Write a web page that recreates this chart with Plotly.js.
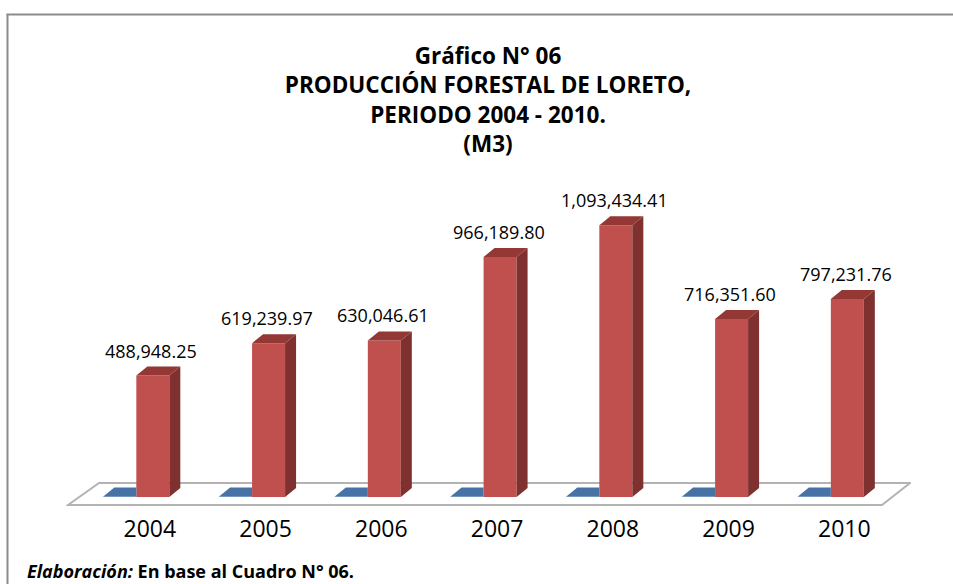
<!DOCTYPE html>
<html>
<head>
<meta charset="utf-8">
<script src="https://cdn.plot.ly/plotly-3.0.1.min.js"></script>
<style>
  html, body { margin: 0; padding: 0; background: #fff; }
  #chart { width: 953px; height: 584px; }
</style>
</head>
<body>
<div id="chart"></div>
<script>
// ---- data ----
const years = ['2004', '2005', '2006', '2007', '2008', '2009', '2010'];
const yearSeries = [2004, 2005, 2006, 2007, 2008, 2009, 2010];   // blue series (year column, ~0 at this scale)
const production = [488948.25, 619239.97, 630046.61, 966189.80, 1093434.41, 716351.60, 797231.76];
const productionLabels = ['488,948.25', '619,239.97', '630,046.61', '966,189.80', '1,093,434.41', '716,351.60', '797,231.76'];
const titleLines = ['Gráfico N° 06', 'PRODUCCIÓN FORESTAL DE LORETO,', 'PERIODO 2004 - 2010.', '(M3)'];

// ---- layout geometry ----
const W = 953, H = 584;
const M = { l: 66, r: 42, t: 174, b: 77 };
const xRange = [-0.75, 6.55];
const yRange = [-40000, 1300000];
const plotW = W - M.l - M.r, plotH = H - M.t - M.b;
const ux = (xRange[1] - xRange[0]) / plotW;   // x units per px
const uy = (yRange[1] - yRange[0]) / plotH;   // y units per px
const dataX = px => xRange[0] + (px - M.l) * ux;
const dataY = py => yRange[0] + (H - M.b - py) * uy;
const paperX = px => (px - M.l) / plotW;
const paperY = py => (H - M.b - py) / plotH;

const BAR_W = 33 * ux;     // front face width
const DX = 11 * ux;        // 3D depth offset (x)
const DY = 9 * uy;         // 3D depth offset (y)

const idx = years.map((_, i) => i);

// ---- 3D faces built from the data ----
const sideX = [], sideY = [], topX = [], topY = [], blueX = [], blueY = [];
idx.forEach(i => {
  const v = production[i];
  const xl = i - BAR_W / 2, xr = i + BAR_W / 2;
  sideX.push(xr, xr + DX, xr + DX, xr, xr, null);
  sideY.push(0, DY, v + DY, v, 0, null);
  topX.push(xl, xr, xr + DX, xl + DX, xl, null);
  topY.push(v, v, v + DY, v + DY, v, null);
  const b = yearSeries[i];
  const bl = i - 1.5 * BAR_W;
  blueX.push(bl, xl, xl, bl + DX, bl, null);
  blueY.push(b, b, b + DY, b + DY, b, null);
});

const traces = [
  { type: 'bar', x: idx.map(i => i - BAR_W), y: yearSeries, width: BAR_W,
    marker: { color: '#4f81bd' }, hoverinfo: 'skip', showlegend: false },
  { type: 'bar', x: idx, y: production, width: BAR_W,
    marker: { color: '#c0504d' }, hoverinfo: 'skip', showlegend: false },
  { type: 'scatter', mode: 'lines', x: blueX, y: blueY, fill: 'toself',
    fillcolor: '#4672a6', line: { width: 0, color: '#4672a6' }, hoverinfo: 'skip', showlegend: false },
  { type: 'scatter', mode: 'lines', x: sideX, y: sideY, fill: 'toself',
    fillcolor: '#7f312f', line: { width: 0, color: '#7f312f' }, hoverinfo: 'skip', showlegend: false },
  { type: 'scatter', mode: 'lines', x: topX, y: topY, fill: 'toself',
    fillcolor: '#933835', line: { width: 0, color: '#933835' }, hoverinfo: 'skip', showlegend: false }
];

const annotations = idx.map(i => ({
  x: i, y: production[i], xref: 'x', yref: 'y',
  text: productionLabels[i], showarrow: false,
  xanchor: 'center', yanchor: 'middle', yshift: 25, xshift: -1.5,
  font: { family: 'Open Sans, sans-serif', size: 18, color: '#000' }
}));
annotations.push({
  xref: 'paper', yref: 'paper', x: paperX(25), y: paperY(557),
  xanchor: 'left', yanchor: 'top', showarrow: false,
  text: '<b><i>Elaboración:</i> En base al Cuadro N° 06.</b>',
  font: { family: 'Open Sans, sans-serif', size: 18, color: '#000' }
});

// floor (decorative plane) and border
const fl = { bl: [dataX(68), dataY(505)], br: [dataX(882), dataY(505)], tr: [dataX(910), dataY(483)], tl: [dataX(99), dataY(483)] };
const shapes = [
  { type: 'path', xref: 'x', yref: 'y', layer: 'below',
    path: `M${fl.bl[0]},${fl.bl[1]} L${fl.br[0]},${fl.br[1]} L${fl.tr[0]},${fl.tr[1]} L${fl.tl[0]},${fl.tl[1]} Z`,
    line: { color: '#b3b3b3', width: 2 }, fillcolor: '#ffffff' },
  { type: 'line', xref: 'paper', yref: 'paper', x0: paperX(7.5), x1: paperX(7.5), y0: paperY(14), y1: paperY(590),
    line: { color: '#8c8c8c', width: 2 } },
  { type: 'line', xref: 'paper', yref: 'paper', x0: paperX(6.5), x1: paperX(960), y0: paperY(14.5), y1: paperY(14.5),
    line: { color: '#8c8c8c', width: 2 } }
];

const layout = {
  width: W, height: H,
  margin: M,
  paper_bgcolor: '#ffffff', plot_bgcolor: 'rgba(0,0,0,0)',
  barmode: 'overlay',
  showlegend: false,
  title: {
    text: titleLines.map(t => '<b>' + t + '</b>').join('<br>'),
    font: { family: 'Open Sans, sans-serif', size: 22.5, color: '#000' },
    x: 488 / W, xanchor: 'center', xref: 'container',
    y: 1 - 64 / H, yanchor: 'top', yref: 'container'
  },
  xaxis: {
    range: xRange, tickmode: 'array', tickvals: idx, ticktext: years,
    showgrid: false, zeroline: false, showline: false, ticks: '',
    ticklabelshift: -3, ticklabelstandoff: 6,
    tickfont: { family: 'Open Sans, sans-serif', size: 23, color: '#000' },
    fixedrange: true
  },
  yaxis: { range: yRange, visible: false, showgrid: false, zeroline: false, fixedrange: true },
  annotations: annotations,
  shapes: shapes
};

Plotly.newPlot('chart', traces, layout, { displayModeBar: false, staticPlot: true });
</script>
</body>
</html>
